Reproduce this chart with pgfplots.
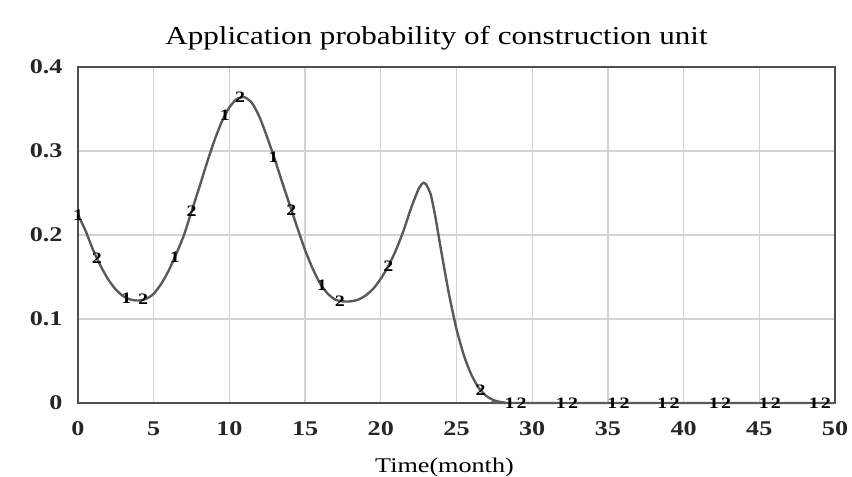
\documentclass[border=0pt]{standalone}
\usepackage{pgfplots}
\pgfplotsset{compat=1.18}
\usepackage{pgfplotstable}
\usepackage{fontspec}
\setmainfont{Liberation Serif}[FakeStretch=1.25]
\newfontfamily\titlefont{Liberation Serif}[FakeStretch=1.2]
\definecolor{curvec}{HTML}{5A5A5A}
\definecolor{gridc}{HTML}{D6D2CE}
\definecolor{framec}{HTML}{505050}

\pgfplotstableread{
x y
0 0.224
0.5 0.205
1 0.182
1.5 0.163
2 0.147
2.5 0.135
3 0.127
3.5 0.123
4 0.122
4.5 0.124
5 0.130
5.5 0.142
6 0.158
6.5 0.178
7 0.200
7.5 0.228
8 0.256
8.5 0.285
9 0.312
9.5 0.335
10 0.352
10.5 0.362
11 0.364
11.5 0.357
12 0.340
12.5 0.316
13 0.290
13.5 0.262
14 0.235
14.5 0.208
15 0.182
15.5 0.160
16 0.142
16.5 0.130
17 0.123
17.5 0.121
18 0.121
18.5 0.123
19 0.128
19.5 0.136
20 0.148
20.5 0.163
21 0.182
21.5 0.205
22 0.232
22.5 0.255
22.8 0.262
23 0.260
23.3 0.248
23.6 0.222
24 0.180
24.5 0.130
25 0.088
25.5 0.056
26 0.033
26.5 0.017
27 0.008
27.5 0.003
28 0.001
28.5 0
50 0
}\curvedata

\pgfplotstableread{
x y
0 0.224
3.2 0.125
6.4 0.174
9.7 0.342
12.9 0.293
16.1 0.140
28.5 0
31.9 0
35.3 0
38.6 0
42.0 0
45.3 0
48.6 0
}\onedata

\pgfplotstableread{
x y
1.25 0.172
4.3 0.123
7.5 0.228
10.7 0.364
14.1 0.230
17.3 0.121
20.5 0.163
26.6 0.015
29.3 0
32.7 0
36.1 0
39.4 0
42.8 0
46.1 0
49.4 0
}\twodata

\begin{document}
\begin{tikzpicture}
\useasboundingbox (-78bp,-74bp) rectangle (774bp,403bp);
\begin{axis}[
  scale only axis, width=757bp, height=336bp,
  xmin=0, xmax=50, ymin=0, ymax=0.4,
  xtick={0,5,...,50}, ytick={0,0.1,0.2,0.3,0.4},
  xticklabels={0,5,10,15,20,25,30,35,40,45,50},
  yticklabels={0,0.1,0.2,0.3,0.4},
  grid=major, grid style={gridc, line width=1.3bp},
  axis line style={framec, line width=1.8bp},
  major tick length=0pt,
  tick label style={font=\bfseries\fontsize{21}{21}\selectfont, black!85},
  xticklabel style={yshift=-15bp},
  yticklabel style={xshift=-12bp},
  title={Application probability of construction unit},
  title style={font=\titlefont\fontsize{26}{26}\selectfont, xshift=-20bp, yshift=7bp},
  xlabel={Time(month)},
  xlabel style={font=\fontsize{21}{21}\selectfont, xshift=-12bp, yshift=-16bp},
  clip=false,
]
\addplot[curvec, line width=2.4bp, smooth, tension=0.4] table {\curvedata};
\addplot[draw=none, mark=none, nodes near coords={1},
  every node near coord/.append style={anchor=center, inner sep=0pt, font=\bfseries\fontsize{16}{16}\selectfont, black}] table {\onedata};
\addplot[draw=none, mark=none, nodes near coords={2},
  every node near coord/.append style={anchor=center, inner sep=0pt, font=\bfseries\fontsize{16}{16}\selectfont, black}] table {\twodata};
\end{axis}
\end{tikzpicture}
\end{document}
